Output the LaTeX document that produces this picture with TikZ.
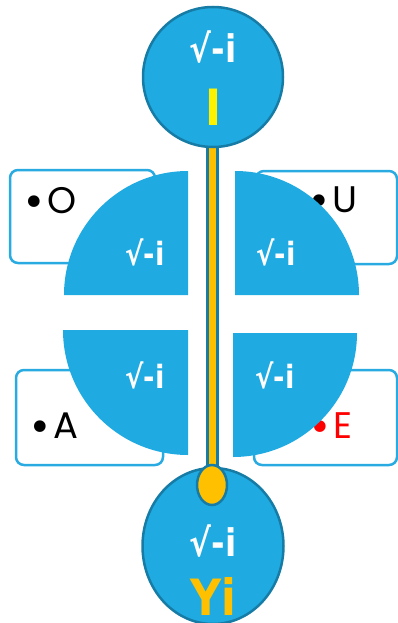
\documentclass[tikz,border=0pt]{standalone}
\usepackage{fontspec}
\setmainfont{DejaVu Sans}
\newfontfamily\rootfont{DejaVu Sans}[FakeStretch=0.86]
\newfontfamily\letterfont{Poppins}
\newfontfamily\dotfont{DejaVu Sans}
\newcommand{\bigdot}{\raisebox{-3.5pt}{\dotfont\fontsize{40}{34}\selectfont•}\hspace{2pt}}
\usepackage{tikz}
\usetikzlibrary{shapes.geometric,positioning}
\definecolor{skyfill}{RGB}{31,171,226}
\definecolor{skyedge}{RGB}{22,124,166}
\definecolor{boxedge}{RGB}{41,171,226}
\definecolor{gold}{RGB}{255,192,0}

\begin{document}
\begin{tikzpicture}[x=1pt,y=-1pt,
    ball/.style={draw=skyedge,fill=skyfill,line width=2.5pt,inner sep=0pt},
    card/.style={draw=boxedge,line width=2.5pt,rounded corners=8pt,fill=white,minimum width=145pt,minimum height=93pt},
    quarter/.style={fill=skyfill},
    root/.style={text=white,font=\rootfont\bfseries\fontsize{38}{38}\selectfont,inner sep=0pt},
    smallroot/.style={text=white,font=\rootfont\bfseries\fontsize{32}{32}\selectfont,inner sep=0pt},
    vowel/.style={anchor=west,font=\letterfont\fontsize{37}{37}\selectfont,inner sep=0pt},
    big/.style={font=\rootfont\bfseries\fontsize{50}{50}\selectfont,inner sep=0pt}]
    \useasboundingbox (0,0) rectangle (398,623);

    % cards behind the wedges
    \node   [card]                                  (cardO) at (82.5,216.5) {};
    \node   [card,minimum width=141pt]              (cardU) at (326.5,217.5) {};
    \node   [card,minimum width=147pt,minimum height=95pt] (cardA) at (89.5,417.5) {};
    \node   [card,minimum width=143pt,minimum height=95pt] (cardE) at (325.5,417.5) {};

    \node   [vowel]                                 (O) at (22,202) {\bigdot O};
    \node   [vowel]                                 (U) at (307,201) {\bigdot U};
    \node   [vowel]                                 (A) at (28,427) {\bigdot A};
    \node   [vowel,text=red]                        (E) at (308,427) {\bigdot E};

    % four quarter discs
    \fill   [quarter] (188,295) -- (64,295) arc[start angle=180,end angle=270,radius=124] -- cycle;
    \fill   [quarter] (235,295) -- (235,171) arc[start angle=270,end angle=360,radius=124] -- cycle;
    \fill   [quarter] (188,330) -- (188,455) arc[start angle=90,end angle=180,radius=125] -- cycle;
    \fill   [quarter] (233,333) -- (357,333) arc[start angle=0,end angle=90,radius=124] -- cycle;

    \node   [smallroot]                             (q1) at (145,252) {√-i};
    \node   [smallroot]                             (q2) at (276,252) {√-i};
    \node   [smallroot]                             (q3) at (145,375) {√-i};
    \node   [smallroot]                             (q4) at (275,375) {√-i};

    % stem and the two heads
    \node   [draw=skyedge,fill=gold,line width=3pt,minimum width=10pt,minimum height=330pt,inner sep=0pt] (bar) at (212.5,310) {};
    \node   [ball,circle,minimum size=140pt]        (top) at (213,77) {};
    \node   [ball,ellipse,minimum width=141pt,minimum height=156pt] (bottom) at (213,546) {};
    \node   [ball,ellipse,fill=gold,minimum width=30pt,minimum height=40pt] (knob) at (212,485) {};

    \node   [root]                                  (r1) at (213,47) {√-i};
    \node   [big,text=yellow]                       (I) at (213,107) {I};
    \node   [root]                                  (r2) at (213,541) {√-i};
    \node   [big,text=gold]                         (Yi) at (213,596) {Yi};
\end{tikzpicture}
\end{document}
